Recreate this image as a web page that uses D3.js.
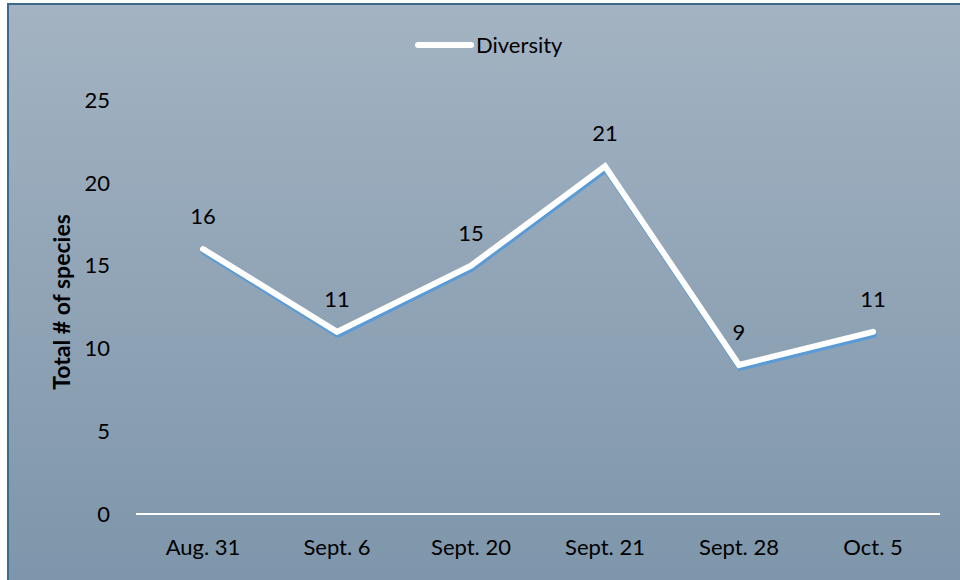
<!DOCTYPE html>
<html>
<head>
<meta charset="utf-8">
<script src="https://cdn.jsdelivr.net/npm/d3@7"></script>
<style>
  body { margin: 0; background: #fff; }
  svg text { font-family: Lato, "Open Sans", sans-serif; fill: #000; }
</style>
</head>
<body>
<div id="chart"></div>
<script>
var categories = ["Aug. 31", "Sept. 6", "Sept. 20", "Sept. 21", "Sept. 28", "Oct. 5"];
var diversity = [16, 11, 15, 21, 9, 11];
var yTicks = [0, 5, 10, 15, 20, 25];
var seriesName = "Diversity";
var yTitle = "Total # of species";

var width = 960,
    height = 580;

var margin = {left: 136, right: 20, top: 100, bottom: 66};

var svg = d3.select("#chart")
    .append("svg")
    .attr("width", width)
    .attr("height", height);

// background gradient
var defs = svg.append("defs");
var grad = defs.append("linearGradient")
    .attr("id", "bg")
    .attr("x1", 0).attr("y1", 0)
    .attr("x2", 0).attr("y2", 1);
grad.append("stop").attr("offset", "0%").attr("stop-color", "#a3b3c2");
grad.append("stop").attr("offset", "100%").attr("stop-color", "#7d95aa");

svg.append("rect")
    .attr("x", 8).attr("y", 4)
    .attr("width", width + 10).attr("height", height + 10)
    .attr("fill", "url(#bg)")
    .attr("stroke", "#3d6a8c")
    .attr("stroke-width", 2);

var x = d3.scaleBand()
    .domain(categories)
    .range([margin.left, width - margin.right]);

var y = d3.scaleLinear()
    .domain([0, 25])
    .range([height - margin.bottom, margin.top]);

// y tick labels
svg.append("g")
    .selectAll("text")
    .data(yTicks)
    .enter().append("text")
    .attr("x", 110)
    .attr("y", function(d) { return y(d); })
    .attr("dy", "0.35em")
    .attr("text-anchor", "end")
    .style("font-size", "22px")
    .text(function(d) { return d; });

// x axis line
svg.append("line")
    .attr("x1", x.range()[0])
    .attr("x2", x.range()[1])
    .attr("y1", y(0))
    .attr("y2", y(0))
    .attr("stroke", "#fff")
    .attr("stroke-width", 2);

// x labels
svg.append("g")
    .selectAll("text")
    .data(categories)
    .enter().append("text")
    .attr("x", function(d) { return x(d) + x.bandwidth() / 2; })
    .attr("y", y(0) + 41)
    .attr("text-anchor", "middle")
    .style("font-size", "22px")
    .text(function(d) { return d; });

// y title
svg.append("text")
    .attr("transform", "translate(70," + ((margin.top + height - margin.bottom) / 2 - 5) + ") rotate(-90)")
    .attr("text-anchor", "middle")
    .style("font-size", "23px")
    .style("font-weight", "bold")
    .text(yTitle);

var line = d3.line()
    .x(function(d, i) { return x(categories[i]) + x.bandwidth() / 2; })
    .y(function(d) { return y(d); });

// shadow
svg.append("path")
    .datum(diversity)
    .attr("d", line)
    .attr("transform", "translate(1,3)")
    .attr("fill", "none")
    .attr("stroke", "#5b9bd5")
    .attr("stroke-width", 6)
    .attr("stroke-linejoin", "round")
    .attr("stroke-linecap", "round");

svg.append("path")
    .datum(diversity)
    .attr("d", line)
    .attr("fill", "none")
    .attr("stroke", "#fff")
    .attr("stroke-width", 6)
    .attr("stroke-linejoin", "miter")
    .attr("stroke-linecap", "round");

// data labels
svg.append("g")
    .selectAll("text")
    .data(diversity)
    .enter().append("text")
    .attr("x", function(d, i) { return x(categories[i]) + x.bandwidth() / 2; })
    .attr("y", function(d) { return y(d) - 25; })
    .attr("text-anchor", "middle")
    .style("font-size", "22px")
    .text(function(d) { return d; });

// legend
var legend = svg.append("g");
legend.append("line")
    .attr("x1", 418).attr("x2", 471)
    .attr("y1", 45).attr("y2", 45)
    .attr("stroke", "#fff")
    .attr("stroke-width", 6)
    .attr("stroke-linecap", "round");
legend.append("text")
    .attr("x", 476)
    .attr("y", 53)
    .style("font-size", "22px")
    .text(seriesName);
</script>
</body>
</html>
